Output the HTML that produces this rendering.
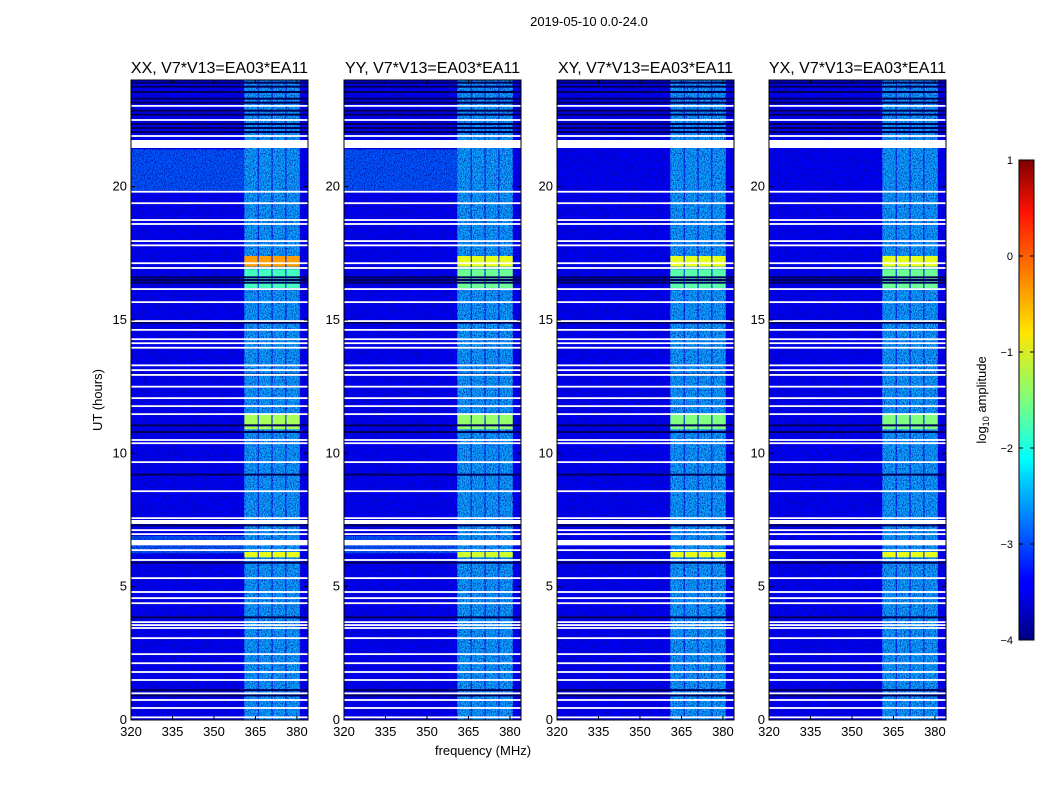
<!DOCTYPE html>
<html><head><meta charset="utf-8">
<style>
body{margin:0;background:#fff;}
svg text{font-family:"Liberation Sans",sans-serif;fill:#000;}
</style></head>
<body>
<svg id="fig" xmlns="http://www.w3.org/2000/svg" width="1050" height="800" viewBox="0 0 1050 800">
<defs>
<filter id="speck" x="0" y="0" width="100%" height="100%">
<feTurbulence type="fractalNoise" baseFrequency="0.9 0.6" numOctaves="2" seed="3"/>
<feColorMatrix type="matrix" values="0 0 0 0 0  0 0 0 0 0  0 0 0 0 0.25  2.4 0 0 0 -1.05"/>
</filter>
<filter id="speck2" x="0" y="0" width="100%" height="100%">
<feTurbulence type="fractalNoise" baseFrequency="0.8 0.7" numOctaves="2" seed="9"/>
<feColorMatrix type="matrix" values="0 0 0 0 0.1  0 0 0 0 0.9  0 0 0 0 1  0 2.4 0 0 -1.1"/>
</filter>
<linearGradient id="jet" x1="0" y1="1" x2="0" y2="0">
<stop offset="0" stop-color="#000080"/><stop offset="0.11" stop-color="#0000ff"/>
<stop offset="0.125" stop-color="#0000ff"/><stop offset="0.34" stop-color="#00d4ff"/>
<stop offset="0.375" stop-color="#00ffff"/><stop offset="0.5" stop-color="#7dff7a"/>
<stop offset="0.64" stop-color="#ffe600"/><stop offset="0.89" stop-color="#ff1300"/>
<stop offset="1" stop-color="#800000"/>
</linearGradient>
</defs>
<text x="589" y="26" font-size="13" text-anchor="middle">2019-05-10 0.0-24.0</text>
<text transform="translate(102,400) rotate(-90)" font-size="13" text-anchor="middle">UT (hours)</text>
<text x="483" y="755" font-size="13" text-anchor="middle">frequency (MHz)</text>
<g id="panels"></g>
<g id="cbar"></g>
</svg>
<script>
// ---- data ----
const panelTitles = ["XX, V7*V13=EA03*EA11","YY, V7*V13=EA03*EA11","XY, V7*V13=EA03*EA11","YX, V7*V13=EA03*EA11"];
const xTicks = [320,335,350,365,380];
const yTicks = [0,5,10,15,20];
const subbandStart = [361,366.2,371.2,376.2];
const subbandEnd = [365.8,370.8,375.8,381];
const bandLevel = -2.45;
const gapHours = [23.03,22.5,21.9,19.81,19.38,18.75,18.6,17.96,17.8,17.13,16.95,16.16,15.67,14.96,14.63,14.28,14.13,13.96,13.3,13.12,12.94,12.5,12.07,11.77,11.47,10.5,10.38,9.67,8.58,7.57,7.42,7.12,6.97,6.37,6.0,5.32,4.8,4.57,4.38,3.67,3.56,3.45,3.07,2.47,2.13,1.8,1.5,1.0,0.75,0.45,0.1];
const bigGapStart = [21.45,6.55,7.35];
const bigGapEnd = [21.75,6.75,7.5];
const darkHours = [23.9,23.75,23.55,23.3,23.15,22.85,22.7,22.35,22.2,22.05,16.5,16.4,16.6,14.9,12.95,11.05,10.8,9.2,7.3,5.9,3.85,1.12,0.92];
const lightStart = [19.85,6.25];
const lightEnd = [21.4,6.9];
// events: start, end, level per panel [XX,YY,XY,YX]
const evStart = [17.0,16.2,10.9,6.1];
const evEnd = [17.4,16.9,11.5,6.3];
const evLevelXX = [-0.4,-1.8,-1.3,-1.0];
const evLevelYY = [-1.0,-1.6,-1.4,-1.1];
const evLevelXY = [-1.0,-1.7,-1.5,-1.0];
const evLevelYX = [-1.0,-1.6,-1.5,-1.0];
const evLevels = [evLevelXX,evLevelYY,evLevelXY,evLevelYX];
const hasLight = [true,true,false,false];
const cbTicks = [1,0,-1,-2,-3,-4];
// ---- layout ----
const NS="http://www.w3.org/2000/svg";
const lefts=[131,344,557,769], PW=177, TOP=80, BOT=720;
function xs(f,i){return lefts[i]+(f-320)/64*PW;}
function ys(h){return BOT-h/24*(BOT-TOP);}
function jet(v){const t=Math.max(0,Math.min(1,(v+4)/5));const c=x=>Math.round(255*Math.max(0,Math.min(1,1.5-Math.abs(x))));return `rgb(${c(4*t-3)},${c(4*t-2)},${c(4*t-1)})`;}
function el(tag,attrs,parent){const e=document.createElementNS(NS,tag);for(const k in attrs)e.setAttribute(k,attrs[k]);parent.appendChild(e);return e;}
const root=document.getElementById('panels');
for(let i=0;i<4;i++){
  const g=el('g',{},root);
  
  
  const L=lefts[i];
  el('rect',{x:L,y:TOP,width:PW,height:BOT-TOP,fill:jet(-3.4)},g);
  if(hasLight[i]){for(let k=0;k<lightStart.length;k++){const r=el('rect',{x:L,y:ys(lightEnd[k]),width:xs(361,i)-L,height:ys(lightStart[k])-ys(lightEnd[k]),fill:jet(-2.95)},g);}}
  for(let k=0;k<subbandStart.length;k++){const r=el('rect',{x:xs(subbandStart[k],i),y:TOP,width:xs(subbandEnd[k],i)-xs(subbandStart[k],i),height:BOT-TOP,fill:jet(bandLevel),opacity:0.8},g);}
  el('rect',{x:L,y:TOP,width:PW,height:BOT-TOP,fill:'#000',filter:'url(#speck)'},g);
  el('rect',{x:xs(361,i),y:TOP,width:xs(381,i)-xs(361,i),height:BOT-TOP,fill:'#0ff',filter:'url(#speck2)',opacity:0.6},g);
  const lv=evLevels[i];
  for(let k=0;k<evStart.length;k++){for(let s=0;s<subbandStart.length;s++){const r=el('rect',{x:xs(subbandStart[s],i),y:ys(evEnd[k]),width:xs(subbandEnd[s],i)-xs(subbandStart[s],i),height:ys(evStart[k])-ys(evEnd[k]),fill:jet(lv[k])},g);}}
  for(const h of darkHours){const r=el('rect',{x:L,y:ys(h)-1,width:PW,height:2,fill:'#00005a'},g);}
  for(const h of gapHours){const r=el('rect',{x:L,y:ys(h)-0.9,width:PW,height:1.8,fill:'#fff'},g);}
  for(let k=0;k<bigGapStart.length;k++){const r=el('rect',{x:L,y:ys(bigGapEnd[k]),width:PW,height:ys(bigGapStart[k])-ys(bigGapEnd[k]),fill:'#fff'},g);}
  el('rect',{x:L,y:TOP,width:PW,height:BOT-TOP,fill:'none',stroke:'#000','stroke-width':1},g);
  for(const f of xTicks){const x=xs(f,i);el('line',{x1:x,x2:x,y1:BOT,y2:BOT-4,stroke:'#000'},g);el('line',{x1:x,x2:x,y1:TOP,y2:TOP+4,stroke:'#000'},g);
    const t=el('text',{x:x,y:BOT+16,'font-size':13,'text-anchor':'middle'},g);t.textContent=f;}
  for(const h of yTicks){const y=ys(h);el('line',{x1:L,x2:L+4,y1:y,y2:y,stroke:'#000'},g);el('line',{x1:L+PW,x2:L+PW-4,y1:y,y2:y,stroke:'#000'},g);
    const t=el('text',{x:L-4,y:y+4,'font-size':13,'text-anchor':'end'},g);t.textContent=h;}
  const tt=el('text',{x:L+PW/2,y:73,'font-size':16,'text-anchor':'middle'},g);tt.textContent=panelTitles[i];
  
  
}
const cb=document.getElementById('cbar');
el('rect',{x:1019,y:160,width:15,height:480,fill:'url(#jet)',stroke:'#000','stroke-width':1},cb);
for(const v of cbTicks){const y=160+(1-v)/5*480;el('line',{x1:1019,x2:1023,y1:y,y2:y,stroke:'#000'},cb);el('line',{x1:1034,x2:1030,y1:y,y2:y,stroke:'#000'},cb);
  const t=el('text',{x:1013,y:y+4,'font-size':11,'text-anchor':'end'},cb);t.textContent=v<0?'\u2212'+(-v):String(v);}
const lab=el('text',{transform:'translate(986,400) rotate(-90)','font-size':13,'text-anchor':'middle'},cb);
lab.innerHTML='log<tspan font-size="9" dy="3">10</tspan><tspan dy="-3"> amplitude</tspan>';


</script>
</body></html>
